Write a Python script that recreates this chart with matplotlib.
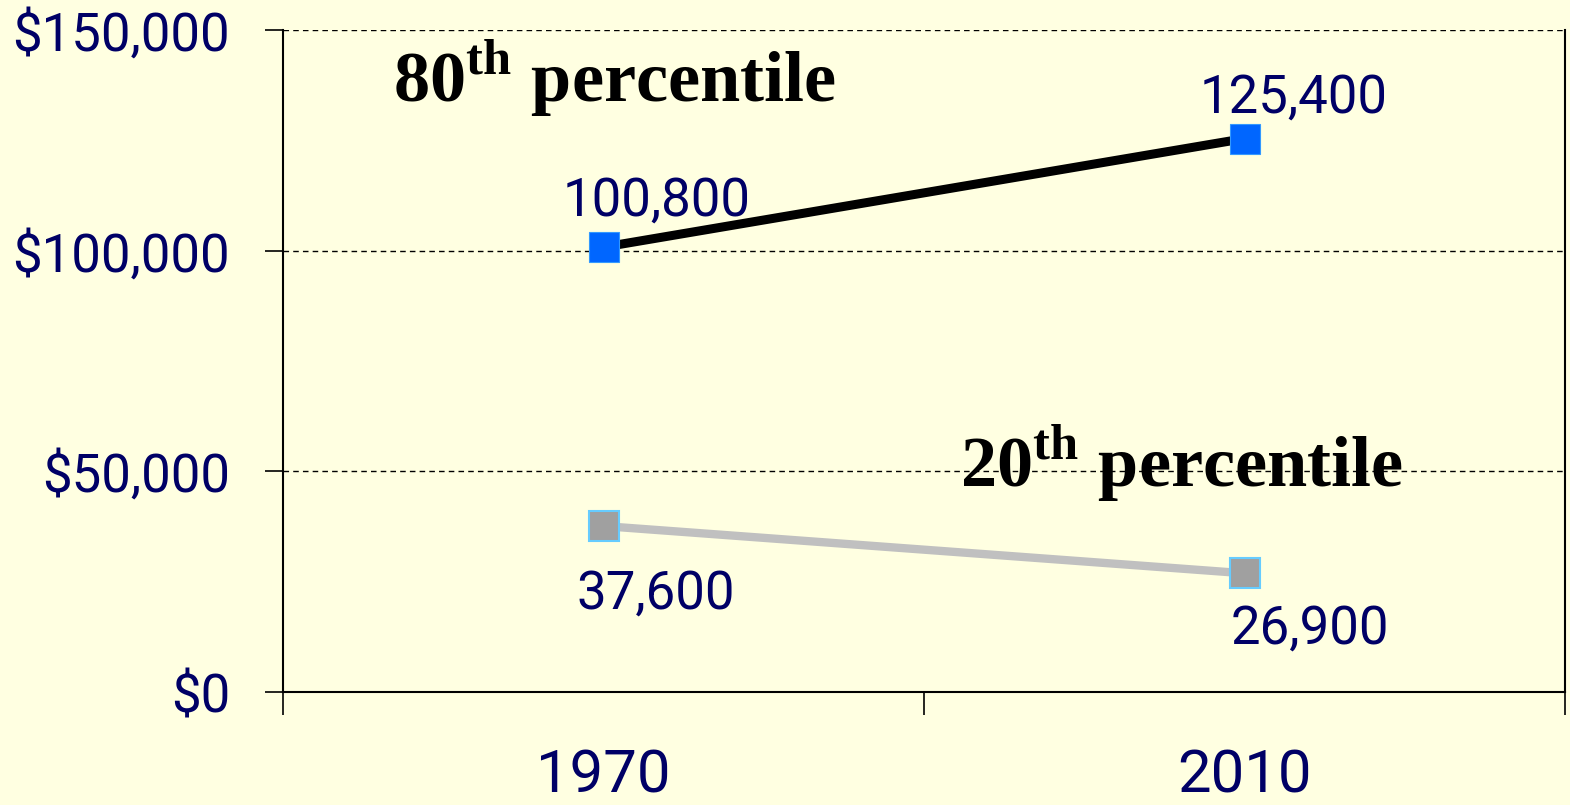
import matplotlib.pyplot as plt
from matplotlib.ticker import FuncFormatter

# data
years = ["1970", "2010"]
p80 = [100800, 125400]
p20 = [37600, 26900]
y_ticks = [0, 50000, 100000, 150000]

NAVY = "#000066"
BG = "#FFFFE1"

plt.rcParams["font.family"] = ["Roboto", "DejaVu Sans"]
plt.rcParams["mathtext.fontset"] = "custom"
plt.rcParams["mathtext.bf"] = "Liberation Serif:bold"
plt.rcParams["mathtext.rm"] = "Liberation Serif:bold"

fig = plt.figure(figsize=(15.7, 8.05), dpi=100, facecolor=BG)
ax = fig.add_axes([283 / 1570, 1 - 692 / 805, (1565 - 283) / 1570, (692 - 30) / 805])
ax.set_facecolor(BG)

xs = [i + 0.5 for i in range(len(years))]

ax.plot(xs, p80, color="black", lw=6.5, zorder=3)
ax.plot(xs, p80, ls="none", marker="s", ms=22, mfc="#0066FF", mec="#3399FF",
        mew=0.8, zorder=4)
ax.plot(xs, p20, color="#C0C0C0", lw=6, zorder=3)
ax.plot(xs, p20, ls="none", marker="s", ms=21, mfc="#A0A0A0", mec="#66CCFF",
        mew=1.5, zorder=4)

# value labels (offsets in pixels from the marker)
offs80 = [(53, 32), (49, 26)]
offs20 = [(52, -82), (65, -70)]
for x, v, o in zip(xs, p80, offs80):
    ax.annotate(f"{v:,}", (x, v), xytext=o, textcoords="offset pixels",
                ha="center", va="baseline", fontsize=38, color=NAVY)
for x, v, o in zip(xs, p20, offs20):
    ax.annotate(f"{v:,}", (x, v), xytext=o, textcoords="offset pixels",
                ha="center", va="baseline", fontsize=38, color=NAVY)

# series titles
fig.text(393 / 1570, 1 - 102 / 805, r"80$^{\mathbf{th}}$ percentile",
         family="Liberation Serif", weight="bold", fontsize=52,
         va="baseline", ha="left")
fig.text(960 / 1570, 1 - 487 / 805, r"20$^{\mathbf{th}}$ percentile",
         family="Liberation Serif", weight="bold", fontsize=52,
         va="baseline", ha="left")

ax.set_xlim(0, len(years))
ax.set_ylim(0, 150000)
ax.set_yticks(y_ticks)
ax.yaxis.set_major_formatter(FuncFormatter(lambda v, p: f"${v:,.0f}"))
ax.tick_params(axis="y", length=13, width=1.2, pad=25, labelsize=38,
               labelcolor=NAVY, direction="out")

ax.set_xticks(range(len(years) + 1))
ax.set_xticklabels([])
ax.set_xticks(xs, minor=True)
ax.set_xticklabels(years, minor=True)
ax.tick_params(axis="x", which="major", length=16.5, width=1.2, direction="out")
ax.tick_params(axis="x", which="minor", length=0, pad=40, labelsize=43,
               labelcolor=NAVY)

for y in y_ticks[1:]:
    ax.axhline(y, color="black", lw=1, ls=(0, (4, 3)), zorder=1)

ax.spines["top"].set_visible(False)
for s in ["left", "bottom", "right"]:
    ax.spines[s].set_linewidth(1.5)

fig.savefig("out.png", dpi=100, facecolor=BG)
